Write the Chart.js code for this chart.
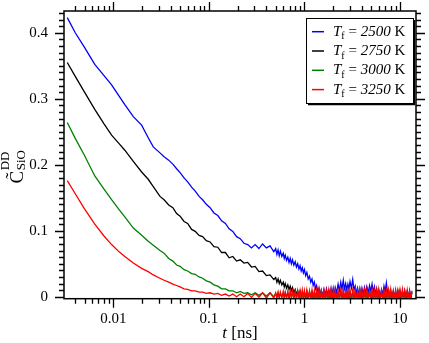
<!DOCTYPE html>
<html><head><meta charset="utf-8">
<script src="https://cdn.jsdelivr.net/npm/chart.js@4.4.1/dist/chart.umd.min.js"></script>
<style>html,body{margin:0;padding:0;background:#fff;}canvas{display:block;}</style>
</head><body>
<canvas id="c" width="429" height="343" style="width:429px;height:343px"></canvas>
<script>
// time axis (ns)
const T_NS = [
  0.0033, 0.004, 0.005, 0.0064, 0.008, 0.0096, 0.0115, 0.0132, 0.0162, 0.0198, 0.0232, 0.0262, 0.0308,
  0.034, 0.038, 0.042, 0.046, 0.05, 0.055, 0.06, 0.066, 0.072, 0.079,
  0.086, 0.094, 0.103, 0.113, 0.124, 0.136, 0.149, 0.163, 0.178, 0.195,
  0.213, 0.233, 0.255, 0.279, 0.305, 0.334, 0.365, 0.4, 0.437, 0.478,
  0.5, 0.515, 0.53, 0.545, 0.56, 0.58, 0.6, 0.615, 0.63, 0.65,
  0.67, 0.69, 0.71, 0.73, 0.75, 0.775, 0.8, 0.825, 0.85, 0.875,
  0.9, 0.925, 0.95, 0.975, 1.0, 1.03, 1.06, 1.095, 1.13, 1.165,
  1.2, 1.235, 1.27, 1.305, 1.34, 1.38, 1.42, 1.46, 1.5, 1.55,
  1.6, 1.65, 1.7, 1.75, 1.8, 1.85, 1.9, 1.95, 2.0, 2.05,
  2.1, 2.17, 2.25, 2.32, 2.4, 2.47, 2.55, 2.62, 2.7, 2.77,
  2.85, 2.92, 3.0, 3.1, 3.2, 3.3, 3.4, 3.5, 3.6, 3.7,
  3.8, 3.9, 4.0, 4.12, 4.25, 4.37, 4.5, 4.65, 4.8, 4.95,
  5.1, 5.25, 5.4, 5.55, 5.7, 5.85, 6.0, 6.2, 6.4, 6.6,
  6.8, 7.0, 7.2, 7.4, 7.6, 7.8, 8.0, 8.25, 8.5, 8.75,
  9.0, 9.25, 9.5, 9.75, 10.0, 10.3, 10.6, 10.9, 11.2, 11.55,
  11.9, 12.25, 12.6, 12.95, 13.3
];
// Tf = 2500 K
const C_2500 = [
  0.423, 0.400, 0.378, 0.352, 0.335, 0.321, 0.304, 0.291, 0.273, 0.260, 0.241, 0.227, 0.218,
  0.212, 0.207, 0.201, 0.194, 0.188, 0.180, 0.174, 0.166, 0.160, 0.152,
  0.147, 0.140, 0.135, 0.127, 0.123, 0.115, 0.111, 0.103, 0.099, 0.091,
  0.088, 0.081, 0.079, 0.074, 0.079, 0.073, 0.080, 0.074, 0.077, 0.068,
  0.073, 0.064, 0.071, 0.062, 0.069, 0.061, 0.066, 0.058, 0.063, 0.055,
  0.060, 0.052, 0.058, 0.050, 0.056, 0.048, 0.053, 0.045, 0.050, 0.042,
  0.047, 0.039, 0.044, 0.036, 0.041, 0.032, 0.037, 0.027, 0.031, 0.022,
  0.027, 0.017, 0.022, 0.012, 0.017, 0.008, 0.013, 0.004, 0.010, 0.002,
  0.011, 0.002, 0.012, 0.003, 0.010, 0.001, 0.012, 0.004, 0.013, 0.003,
  0.014, 0.006, 0.019, 0.009, 0.022, 0.011, 0.025, 0.012, 0.020, 0.010,
  0.019, 0.011, 0.023, 0.013, 0.026, 0.010, 0.016, 0.005, 0.013, 0.003,
  0.012, 0.002, 0.013, 0.004, 0.014, 0.005, 0.015, 0.006, 0.017, 0.008,
  0.019, 0.007, 0.015, 0.004, 0.012, 0.002, 0.010, 0.001, 0.011, 0.003,
  0.016, 0.008, 0.021, 0.006, 0.010, 0.000, 0.009, -0.001, 0.008, 0.000,
  0.009, -0.001, 0.008, 0.000, 0.009, -0.001, 0.008, 0.000, 0.009, -0.001,
  0.008, 0.000, 0.009, -0.001, 0.008
];
// Tf = 2750 K
const C_2750 = [
  0.355, 0.334, 0.310, 0.284, 0.262, 0.245, 0.232, 0.222, 0.205, 0.189, 0.178, 0.167, 0.152,
  0.147, 0.139, 0.135, 0.126, 0.122, 0.114, 0.111, 0.102, 0.099, 0.093,
  0.091, 0.085, 0.083, 0.076, 0.075, 0.067, 0.067, 0.059, 0.061, 0.054,
  0.056, 0.051, 0.052, 0.045, 0.046, 0.038, 0.039, 0.032, 0.033, 0.026,
  0.029, 0.022, 0.027, 0.020, 0.025, 0.018, 0.022, 0.015, 0.020, 0.013,
  0.018, 0.011, 0.016, 0.009, 0.014, 0.006, 0.011, 0.004, 0.009, 0.002,
  0.008, 0.000, 0.007, -0.001, 0.006, -0.002, 0.006, -0.002, 0.007, -0.002,
  0.006, -0.002, 0.005, -0.003, 0.006, -0.002, 0.007, -0.002, 0.005, -0.003,
  0.006, -0.002, 0.005, -0.002, 0.006, -0.003, 0.006, -0.002, 0.005, -0.002,
  0.006, -0.003, 0.005, -0.002, 0.006, -0.002, 0.005, -0.003, 0.006, -0.002,
  0.005, -0.002, 0.006, -0.003, 0.005, -0.002, 0.006, -0.002, 0.005, -0.003,
  0.006, -0.002, 0.005, -0.002, 0.006, -0.003, 0.005, -0.002, 0.006, -0.002,
  0.005, -0.003, 0.006, -0.002, 0.005, -0.002, 0.006, -0.003, 0.005, -0.002,
  0.006, -0.002, 0.005, -0.003, 0.006, -0.002, 0.005, -0.002, 0.006, -0.003,
  0.005, -0.002, 0.006, -0.002, 0.005, -0.003, 0.006, -0.002, 0.005, -0.002,
  0.006, -0.003, 0.005, -0.002, 0.006
];
// Tf = 3000 K
const C_3000 = [
  0.264, 0.240, 0.214, 0.183, 0.163, 0.147, 0.132, 0.121, 0.104, 0.093, 0.084, 0.078, 0.070,
  0.066, 0.058, 0.054, 0.048, 0.046, 0.041, 0.039, 0.035, 0.034, 0.030,
  0.028, 0.024, 0.022, 0.018, 0.016, 0.012, 0.012, 0.009, 0.009, 0.006,
  0.008, 0.005, 0.006, 0.003, 0.006, 0.002, 0.006, 0.001, 0.006, 0.000,
  0.005, 0.000, 0.006, -0.001, 0.005, 0.000, 0.006, -0.001, 0.006, -0.001,
  0.006, -0.002, 0.007, -0.001, 0.006, -0.002, 0.007, -0.002, 0.006, -0.002,
  0.007, -0.002, 0.006, -0.003, 0.007, -0.002, 0.008, -0.003, 0.006, -0.002,
  0.007, -0.003, 0.006, -0.002, 0.007, -0.003, 0.006, -0.002, 0.008, -0.003,
  0.006, -0.002, 0.007, -0.003, 0.006, -0.002, 0.007, -0.003, 0.006, -0.002,
  0.007, -0.003, 0.006, -0.002, 0.008, -0.003, 0.006, -0.002, 0.007, -0.003,
  0.006, -0.002, 0.007, -0.003, 0.006, -0.002, 0.007, -0.003, 0.006, -0.002,
  0.008, -0.003, 0.006, -0.002, 0.007, -0.003, 0.006, -0.002, 0.007, -0.003,
  0.006, -0.002, 0.007, -0.003, 0.006, -0.002, 0.008, -0.003, 0.006, -0.002,
  0.007, -0.003, 0.006, -0.002, 0.007, -0.003, 0.006, -0.002, 0.007, -0.003,
  0.006, -0.002, 0.008, -0.003, 0.006, -0.002, 0.007, -0.003, 0.006, -0.002,
  0.007, -0.003, 0.006, -0.002, 0.007
];
// Tf = 3250 K
const C_3250 = [
  0.176, 0.156, 0.133, 0.110, 0.092, 0.079, 0.068, 0.061, 0.051, 0.043, 0.038, 0.033, 0.028,
  0.025, 0.022, 0.019, 0.017, 0.015, 0.012, 0.011, 0.009, 0.009, 0.007,
  0.007, 0.005, 0.006, 0.004, 0.005, 0.002, 0.004, 0.001, 0.004, 0.000,
  0.004, 0.000, 0.005, -0.001, 0.005, -0.001, 0.006, -0.002, 0.006, -0.002,
  0.006, -0.002, 0.007, -0.002, 0.007, -0.002, 0.008, -0.003, 0.007, -0.002,
  0.008, -0.003, 0.008, -0.002, 0.009, -0.003, 0.008, -0.003, 0.009, -0.003,
  0.009, -0.003, 0.010, -0.003, 0.009, -0.004, 0.010, -0.003, 0.009, -0.004,
  0.010, -0.003, 0.009, -0.004, 0.010, -0.003, 0.011, -0.004, 0.009, -0.003,
  0.010, -0.004, 0.009, -0.003, 0.010, -0.004, 0.011, -0.003, 0.009, -0.004,
  0.010, -0.003, 0.009, -0.004, 0.010, -0.003, 0.011, -0.004, 0.009, -0.003,
  0.010, -0.004, 0.009, -0.003, 0.010, -0.004, 0.011, -0.003, 0.009, -0.004,
  0.010, -0.003, 0.009, -0.004, 0.010, -0.003, 0.011, -0.004, 0.009, -0.003,
  0.010, -0.004, 0.009, -0.003, 0.010, -0.004, 0.011, -0.003, 0.009, -0.004,
  0.010, -0.003, 0.009, -0.004, 0.010, -0.003, 0.011, -0.004, 0.009, -0.003,
  0.010, -0.004, 0.009, -0.003, 0.010, -0.004, 0.011, -0.003, 0.009, -0.004,
  0.010, -0.003, 0.009, -0.004, 0.009
];
const SERIES_TEMPS = ['2500', '2750', '3000', '3250'];
const X_TICKS = [0.01, 0.1, 1, 10];
const X_TICK_LABELS = ['0.01', '0.1', '1', '10'];
const Y_TICKS = [0, 0.1, 0.2, 0.3, 0.4];
const Y_TICK_LABELS = ['0', '0.1', '0.2', '0.3', '0.4'];

// styles
const SERIES_COLORS = ['#0000ff', '#000000', '#008000', '#ff0000'];
const SERIF = "'Liberation Serif','Times New Roman',serif";

const seriesValues = [C_2500, C_2750, C_3000, C_3250];
const datasets = seriesValues.map((vals, i) => ({
  label: 'Tf = ' + SERIES_TEMPS[i] + ' K',
  data: T_NS.map((t, k) => ({x: t, y: vals[k]})),
  borderColor: SERIES_COLORS[i],
  borderWidth: 1.3,
  pointRadius: 0,
  tension: 0,
  fill: false,
  order: seriesValues.length - 1 - i
}));

function drawParts(ctx, x, y, parts) {
  for (const p of parts) {
    ctx.font = p.font;
    ctx.fillText(p.t, x, y + (p.dy || 0));
    x += ctx.measureText(p.t).width;
  }
  return x;
}
function partsWidth(ctx, parts) {
  let w = 0;
  for (const p of parts) { ctx.font = p.font; w += ctx.measureText(p.t).width; }
  return w;
}
function noPad(s) { s.paddingTop = 0; s.paddingBottom = 0; s.paddingLeft = 0; s.paddingRight = 0; }

const decorPlugin = {
  id: 'decor',
  afterDraw(chart) {
    const {ctx, chartArea: a, scales: {x, y}} = chart;
    ctx.save();
    ctx.strokeStyle = '#000';
    ctx.fillStyle = '#000';
    // frame
    ctx.lineWidth = 1.5;
    ctx.strokeRect(a.left, a.top, a.right - a.left, a.bottom - a.top);
    // ticks (outward, mirrored)
    const MAJ = 9, MIN = 5;
    ctx.lineWidth = 1.3;
    ctx.beginPath();
    for (let e = -3; e <= 1; e++) {
      for (let m = 1; m <= 9; m++) {
        const v = m * Math.pow(10, e);
        if (v < x.min || v > x.max) continue;
        const px = Math.round(x.getPixelForValue(v)) + 0.5;
        const L = m === 1 ? MAJ : MIN;
        ctx.moveTo(px, a.bottom); ctx.lineTo(px, a.bottom + L);
        ctx.moveTo(px, a.top); ctx.lineTo(px, a.top - L);
      }
    }
    for (let k = 0; k <= 50; k++) {
      const v = k / 100;
      if (v > y.max) break;
      const py = Math.round(y.getPixelForValue(v)) + 0.5;
      const L = k % 10 === 0 ? MAJ : MIN;
      ctx.moveTo(a.left, py); ctx.lineTo(a.left - L, py);
      ctx.moveTo(a.right, py); ctx.lineTo(a.right + L, py);
    }
    ctx.stroke();

    // legend
    const bw = 107, bh = 85;
    const bx = a.right - 110, by = a.top + 7;
    ctx.fillStyle = '#fff';
    ctx.fillRect(bx, by, bw, bh);
    ctx.lineWidth = 1;
    ctx.strokeStyle = '#000';
    ctx.strokeRect(bx + 0.5, by + 0.5, bw, bh);
    ctx.lineWidth = 1.5;
    ctx.beginPath();
    ctx.moveTo(bx + bw + 1.5, by + 2); ctx.lineTo(bx + bw + 1.5, by + bh + 1.5); ctx.lineTo(bx + 2, by + bh + 1.5);
    ctx.stroke();
    ctx.textBaseline = 'middle';
    ctx.textAlign = 'left';
    for (let i = 0; i < SERIES_TEMPS.length; i++) {
      const ly = by + 13.7 + i * 19.3;
      ctx.strokeStyle = SERIES_COLORS[i];
      ctx.lineWidth = 1.5;
      ctx.beginPath();
      ctx.moveTo(bx + 6, ly); ctx.lineTo(bx + 18, ly);
      ctx.stroke();
      ctx.fillStyle = '#000';
      drawParts(ctx, bx + 27, ly, [
        {t: 'T', font: 'italic 15px ' + SERIF},
        {t: 'f', font: '10px ' + SERIF, dy: 5},
        {t: ' = ', font: '15px ' + SERIF},
        {t: SERIES_TEMPS[i], font: 'italic 15px ' + SERIF},
        {t: ' K', font: '15px ' + SERIF}
      ]);
    }

    // x axis title
    ctx.fillStyle = '#000';
    ctx.textBaseline = 'alphabetic';
    const xParts = [
      {t: 't', font: 'italic 17px ' + SERIF},
      {t: ' [ns]', font: '17px ' + SERIF}
    ];
    const xw = partsWidth(ctx, xParts);
    drawParts(ctx, (a.left + a.right) / 2 - xw / 2, 338, xParts);

    // y axis title (rotated)
    ctx.save();
    ctx.translate(23, 167);
    ctx.rotate(-Math.PI / 2);
    ctx.font = '19px ' + SERIF;
    const wC = ctx.measureText('C\u0303').width;
    ctx.font = '13px ' + SERIF;
    const wS = Math.max(ctx.measureText('DD').width, ctx.measureText('SiO').width);
    const x0 = -(wC + wS) / 2;
    ctx.font = '19px ' + SERIF;
    ctx.fillText('C\u0303', x0, 0);
    ctx.font = '13px ' + SERIF;
    ctx.fillText('DD', x0 + wC + 0.5, -14);
    ctx.fillText('SiO', x0 + wC + 0.5, 2);
    ctx.restore();

    ctx.restore();
  }
};

new Chart(document.getElementById('c'), {
  type: 'line',
  data: {datasets},
  options: {
    responsive: false,
    animation: false,
    devicePixelRatio: 1,
    layout: {padding: {left: 0, right: 13, top: 11, bottom: 0}},
    plugins: {legend: {display: false}, tooltip: {enabled: false}},
    scales: {
      x: {
        type: 'logarithmic',
        min: 0.00305,
        max: 14.7,
        grid: {display: false, drawTicks: false},
        border: {display: false},
        afterBuildTicks: s => { s.ticks = X_TICKS.map(v => ({value: v})); },
        afterFit: s => { s.height = 44.3; noPad(s); },
        ticks: {
          autoSkip: false, maxRotation: 0, padding: 11, color: '#000',
          font: {family: SERIF, size: 15},
          callback: (v, i) => X_TICK_LABELS[i]
        }
      },
      y: {
        type: 'linear',
        min: -0.003,
        max: 0.433,
        grid: {display: false, drawTicks: false},
        border: {display: false},
        afterBuildTicks: s => { s.ticks = Y_TICKS.map(v => ({value: v})); },
        afterFit: s => { s.width = 64; noPad(s); },
        ticks: {
          autoSkip: false, padding: 16, color: '#000',
          font: {family: SERIF, size: 15},
          callback: (v, i) => Y_TICK_LABELS[i]
        }
      }
    }
  },
  plugins: [decorPlugin]
});
</script>
</body></html>
